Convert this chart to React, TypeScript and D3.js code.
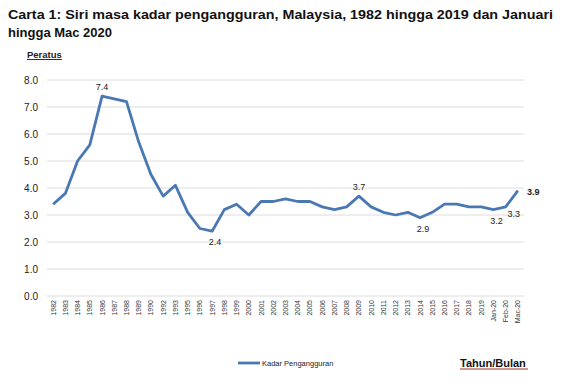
import React from "react";
import * as d3 from "d3";

const categories = [
  "1982","1983","1984","1985","1986","1987","1988","1989","1990","1992","1993",
  "1995","1996","1997","1998","1999","2000","2001","2002","2003","2004","2005",
  "2006","2007","2008","2009","2010","2011","2012","2013","2014","2015","2016",
  "2017","2018","2019","Jan-20","Feb-20","Mac-20",
];
const rates = [
  3.4,3.8,5.0,5.6,7.4,7.3,7.2,5.7,4.5,3.7,4.1,
  3.1,2.5,2.4,3.2,3.4,3.0,3.5,3.5,3.6,3.5,3.5,
  3.3,3.2,3.3,3.7,3.3,3.1,3.0,3.1,2.9,3.1,3.4,
  3.4,3.3,3.3,3.2,3.3,3.9,
];
const yTicks = [0, 1, 2, 3, 4, 5, 6, 7, 8];
const annotations = [
  { cat: "1986", text: "7.4", pos: "above", bold: false },
  { cat: "1997", text: "2.4", pos: "below", bold: false },
  { cat: "2009", text: "3.7", pos: "above", bold: false },
  { cat: "2014", text: "2.9", pos: "below", bold: false },
  { cat: "Jan-20", text: "3.2", pos: "below", bold: false },
  { cat: "Feb-20", text: "3.3", pos: "belowright", bold: false },
  { cat: "Mac-20", text: "3.9", pos: "right", bold: true },
];

const FONT = "'Liberation Sans', Arial, sans-serif";
const LINE = "#4a78b3";

export default function App() {
  const W = 579, H = 383;
  const x = d3.scalePoint<string>().domain(categories).range([47, 524]).padding(0.5);
  const y = d3.scaleLinear().domain([0, 8]).range([296, 80]);
  const line = d3
    .line<number>()
    .x((_, i) => x(categories[i]) as number)
    .y((d) => y(d));
  const valOf = (c: string) => rates[categories.indexOf(c)];

  return (
    <svg width={W} height={H} style={{ position: "absolute", left: 0, top: 0, background: "#fff" }} fontFamily={FONT}>
      <text x={8} y={19} fontSize={13} fontWeight="bold" fill="#111" textLength={545} lengthAdjust="spacingAndGlyphs">
        Carta 1: Siri masa kadar pengangguran, Malaysia, 1982 hingga 2019 dan Januari
      </text>
      <text x={8} y={37} fontSize={13} fontWeight="bold" fill="#111">
        hingga Mac 2020
      </text>
      <text x={27} y={58} fontSize={9.5} fontWeight="bold" fill="#222" textDecoration="underline">
        Peratus
      </text>

      {yTicks.map((t) => (
        <g key={t}>
          <line x1={47} x2={524} y1={y(t)} y2={y(t)} stroke="#dcdcdc" strokeWidth={1} />
          <text x={38} y={y(t) + 3.5} fontSize={10} textAnchor="end" fill="#222">
            {t.toFixed(1)}
          </text>
        </g>
      ))}

      {categories.map((c) => (
        <text
          key={c}
          transform={`translate(${(x(c) as number) + 2.5},${300}) rotate(-90)`}
          fontSize={7}
          textAnchor="end"
          fill="#333"
        >
          {c}
        </text>
      ))}

      <path d={line(rates) || ""} fill="none" stroke={LINE} strokeWidth={2.8} strokeLinejoin="round" />

      {annotations.map((a) => {
        const px = x(a.cat) as number;
        const py = y(valOf(a.cat));
        let tx = px, ty = py, anchor: "middle" | "start" = "middle";
        if (a.pos === "above") { ty = py - 6; }
        else if (a.pos === "below") { ty = py + 14; tx = px + 3; }
        else if (a.pos === "belowright") { tx = px + 8; ty = py + 10; }
        else if (a.pos === "right") { tx = px + 9; ty = py + 4; anchor = "start"; }
        return (
          <text key={a.cat} x={tx} y={ty} fontSize={9} textAnchor={anchor} fontWeight={a.bold ? "bold" : "normal"} fill="#222">
            {a.text}
          </text>
        );
      })}

      <line x1={238} x2={260} y1={363} y2={363} stroke={LINE} strokeWidth={2.8} />
      <text x={262} y={366} fontSize={7.5} fill="#222">Kadar Pengangguran</text>

      <text x={460} y={367} fontSize={11} fontWeight="bold" fill="#111">Tahun/Bulan</text>
      <line x1={460} x2={528} y1={369} y2={369} stroke="#a0302a" strokeWidth={1} />
    </svg>
  );
}
